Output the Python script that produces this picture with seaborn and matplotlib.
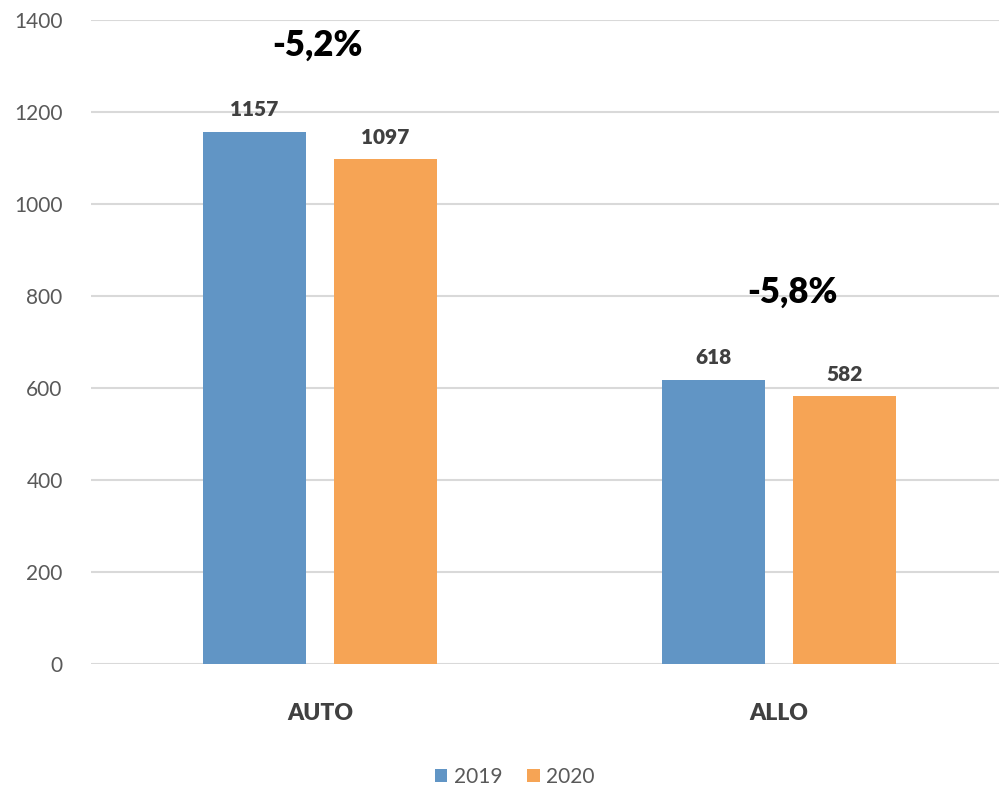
import pandas as pd
import matplotlib.pyplot as plt
import seaborn as sns

# values
categories = ['AUTO', 'ALLO']
years = ['2019', '2020']
values_2019 = [1157, 618]
values_2020 = [1097, 582]
changes = ['-5,2%', '-5,8%']
change_x = [-0.005, 1.03]
change_y = [1345, 809]

df = pd.DataFrame({
    'type': categories * 2,
    'year': [years[0]] * 2 + [years[1]] * 2,
    'n': values_2019 + values_2020,
})

sns.set_style('white')
plt.rcParams['font.family'] = ['Lato', 'DejaVu Sans']

fig = plt.figure(figsize=(9.99, 7.87), dpi=100)
ax = fig.add_axes([0.0906, 0.1563, 0.919, 0.8183])

sns.barplot(data=df, x='type', y='n', hue='year', order=categories,
            hue_order=years, palette=['#6195C5', '#F6A455'], saturation=1,
            width=0.571, gap=0.215, linewidth=0, ax=ax)

ax.set_ylim(0, 1400)
ax.set_xlim(-0.5, 1.5)
ax.set_yticks(range(0, 1401, 200))
ax.grid(axis='y', color='#d9d9d9', linewidth=1.5)
ax.set_axisbelow(True)
for s in ax.spines.values():
    s.set_visible(False)
ax.set_xlabel('')
ax.set_ylabel('')
ax.tick_params(axis='y', labelsize=15, labelcolor='#595959', pad=20, length=0)
ax.tick_params(axis='x', labelsize=16.5, labelcolor='#404040', pad=28, length=0)
for lab in ax.get_xticklabels():
    lab.set_fontweight('heavy')

# value labels above bars
for cont in ax.containers:
    ax.bar_label(cont, padding=9, fontsize=15, fontweight='heavy', color='#404040')

# percentage change labels
for i, txt in enumerate(changes):
    ax.text(change_x[i], change_y[i], txt, ha='center', va='center',
            fontsize=25, fontweight='heavy', color='black')

ax.legend(loc='center', bbox_to_anchor=(0.462, -0.175), ncol=2, frameon=False,
          fontsize=15, handlelength=0.6, handleheight=0.6, handletextpad=0.3,
          columnspacing=1.2, labelcolor='#595959')

fig.savefig('out.png', dpi=100)
